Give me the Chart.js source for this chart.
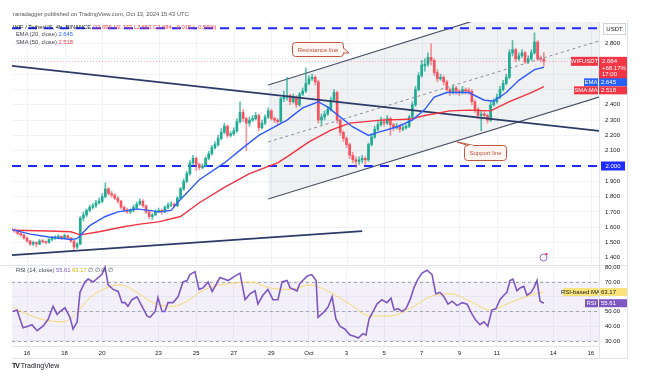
<!DOCTYPE html>
<html>
<head>
<meta charset="utf-8">
<script src="https://cdn.jsdelivr.net/npm/chart.js@4"></script>
<style>
  body { margin: 0; background: #fff; width: 650px; height: 376px; overflow: hidden; position: relative; font-family: "Liberation Sans", Arial, sans-serif; }
  canvas { position: absolute; left: 0; }
  #main { top: 0; }
  #rsi { top: 262px; }
  .t { position: absolute; font-size: 5.8px; white-space: nowrap; color: #434651; line-height: 7px; }
  .red { color: #f23645; }
  .blue { color: #2962ff; }
  .pur { color: #7e57c2; }
  .yel { color: #d9b400; }
</style>
</head>
<body>
<canvas id="main" width="650" height="266"></canvas>
<canvas id="rsi" width="650" height="114"></canvas>

<div class="t" style="left:13px;top:11px;color:#555">ranadagger published on TradingView.com, Oct 13, 2024 15:43 UTC</div>
<div class="t" style="left:13px;top:24px;color:#131722">WIF / TetherUS, 4h, BINANCE <span class="red">O2.699 H2.743 L2.653 C2.684 −0.015 (−0.56%)</span></div>
<div class="t" style="left:16px;top:31px">EMA (20, close) <span class="blue">2.645</span></div>
<div class="t" style="left:16px;top:39px">SMA (50, close) <span class="red">2.518</span></div>
<div class="t" style="left:16px;top:267px">RSI (14, close) <span class="pur">55.61</span> <span class="yel">63.17</span> ∅ ∅ ∅ ∅</div>
<div class="t" style="left:12px;top:362px;font-size:7px;color:#131722"><b style="letter-spacing:-1px">TV</b> TradingView</div>

<script>
// 4h candles, Sep 15 04:00 UTC .. Oct 13 12:00 UTC  [open, high, low, close]
const candles = [
  [1.59,1.60,1.57,1.58],[1.58,1.59,1.565,1.575],[1.575,1.58,1.55,1.56],[1.56,1.565,1.54,1.55],
  [1.55,1.555,1.52,1.53],[1.53,1.535,1.50,1.51],[1.51,1.515,1.48,1.49],[1.49,1.51,1.48,1.50],
  [1.50,1.505,1.47,1.49],[1.49,1.52,1.485,1.51],[1.51,1.52,1.495,1.505],[1.505,1.51,1.49,1.50],
  [1.50,1.525,1.495,1.52],[1.52,1.54,1.51,1.53],[1.53,1.545,1.52,1.535],[1.535,1.55,1.525,1.54],
  [1.54,1.545,1.52,1.53],[1.53,1.555,1.525,1.545],[1.545,1.55,1.52,1.53],[1.53,1.535,1.50,1.51],
  [1.51,1.515,1.455,1.47],[1.47,1.50,1.46,1.49],[1.49,1.67,1.485,1.66],[1.66,1.70,1.64,1.68],
  [1.68,1.72,1.67,1.71],[1.71,1.745,1.70,1.73],[1.73,1.755,1.72,1.74],[1.74,1.775,1.73,1.76],
  [1.76,1.79,1.75,1.77],[1.77,1.82,1.76,1.80],[1.80,1.89,1.79,1.85],[1.85,1.86,1.81,1.82],
  [1.82,1.835,1.795,1.81],[1.81,1.82,1.78,1.79],[1.79,1.80,1.755,1.77],[1.77,1.775,1.72,1.73],
  [1.73,1.74,1.70,1.71],[1.71,1.725,1.69,1.70],[1.70,1.72,1.69,1.71],[1.71,1.745,1.70,1.73],
  [1.73,1.765,1.72,1.75],[1.75,1.785,1.745,1.77],[1.77,1.78,1.73,1.74],[1.74,1.745,1.69,1.70],
  [1.70,1.71,1.655,1.67],[1.67,1.69,1.65,1.68],[1.68,1.715,1.675,1.70],[1.70,1.725,1.695,1.71],
  [1.71,1.72,1.685,1.70],[1.70,1.74,1.695,1.73],[1.73,1.76,1.72,1.745],[1.745,1.765,1.735,1.75],
  [1.75,1.76,1.73,1.74],[1.74,1.80,1.735,1.79],[1.79,1.86,1.785,1.85],[1.85,1.915,1.84,1.90],
  [1.90,1.965,1.89,1.95],[1.95,2.035,1.94,2.02],[2.02,2.07,2.01,2.05],[2.05,2.06,1.97,2.01],
  [2.01,2.02,1.975,1.99],[1.99,2.015,1.98,2.00],[2.00,2.06,1.995,2.05],[2.05,2.095,2.04,2.08],
  [2.08,2.135,2.07,2.12],[2.12,2.16,2.11,2.14],[2.14,2.20,2.13,2.18],[2.18,2.245,2.17,2.22],
  [2.22,2.28,2.21,2.26],[2.26,2.27,2.185,2.20],[2.20,2.225,2.19,2.21],[2.21,2.25,2.20,2.23],
  [2.23,2.31,2.22,2.29],[2.29,2.42,2.28,2.35],[2.35,2.37,2.29,2.31],[2.31,2.32,2.10,2.28],
  [2.28,2.32,2.26,2.30],[2.30,2.33,2.29,2.31],[2.31,2.35,2.30,2.33],[2.33,2.34,2.23,2.25],
  [2.25,2.30,2.24,2.28],[2.28,2.335,2.27,2.32],[2.32,2.38,2.31,2.36],[2.36,2.37,2.30,2.31],
  [2.31,2.32,2.285,2.30],[2.30,2.31,2.27,2.29],[2.29,2.45,2.285,2.44],[2.44,2.49,2.42,2.45],
  [2.45,2.58,2.43,2.46],[2.46,2.47,2.40,2.42],[2.42,2.47,2.41,2.45],[2.45,2.46,2.38,2.40],
  [2.40,2.48,2.39,2.47],[2.47,2.51,2.46,2.49],[2.49,2.64,2.48,2.54],[2.54,2.59,2.53,2.57],
  [2.57,2.60,2.56,2.58],[2.58,2.59,2.53,2.55],[2.55,2.56,2.28,2.30],[2.30,2.34,2.27,2.32],
  [2.32,2.36,2.30,2.34],[2.34,2.39,2.33,2.37],[2.37,2.45,2.36,2.43],[2.43,2.50,2.42,2.48],
  [2.48,2.49,2.28,2.30],[2.30,2.31,2.20,2.22],[2.22,2.23,2.16,2.18],[2.18,2.19,2.12,2.14],
  [2.14,2.15,2.05,2.07],[2.07,2.09,2.02,2.04],[2.04,2.06,1.99,2.03],[2.03,2.06,2.01,2.04],
  [2.04,2.07,2.02,2.05],[2.05,2.06,2.01,2.04],[2.04,2.15,2.03,2.14],[2.14,2.21,2.13,2.19],
  [2.19,2.26,2.18,2.24],[2.24,2.29,2.23,2.27],[2.27,2.32,2.26,2.29],[2.29,2.31,2.26,2.28],
  [2.28,2.33,2.27,2.31],[2.31,2.32,2.20,2.27],[2.27,2.28,2.23,2.25],[2.25,2.28,2.24,2.26],
  [2.26,2.27,2.22,2.24],[2.24,2.265,2.23,2.25],[2.25,2.27,2.24,2.26],[2.26,2.33,2.25,2.32],
  [2.32,2.42,2.31,2.40],[2.40,2.52,2.39,2.50],[2.50,2.61,2.49,2.59],[2.59,2.69,2.58,2.66],
  [2.655,2.70,2.62,2.665],[2.665,2.74,2.65,2.71],[2.71,2.80,2.66,2.69],[2.69,2.70,2.59,2.61],
  [2.61,2.63,2.55,2.57],[2.57,2.60,2.56,2.58],[2.58,2.59,2.53,2.55],[2.55,2.56,2.49,2.50],
  [2.50,2.51,2.46,2.48],[2.48,2.53,2.47,2.51],[2.51,2.52,2.47,2.49],[2.49,2.50,2.46,2.48],
  [2.48,2.52,2.47,2.50],[2.50,2.51,2.47,2.49],[2.492,2.51,2.47,2.488],[2.488,2.50,2.40,2.42],
  [2.42,2.43,2.35,2.37],[2.37,2.38,2.31,2.33],[2.33,2.36,2.23,2.34],[2.34,2.36,2.31,2.33],
  [2.33,2.34,2.28,2.30],[2.30,2.42,2.29,2.40],[2.40,2.44,2.39,2.42],[2.42,2.47,2.41,2.45],
  [2.45,2.52,2.44,2.50],[2.50,2.56,2.49,2.54],[2.54,2.60,2.53,2.58],[2.58,2.76,2.57,2.74],
  [2.74,2.82,2.72,2.76],[2.76,2.77,2.68,2.70],[2.70,2.74,2.69,2.72],[2.72,2.76,2.71,2.74],
  [2.74,2.75,2.67,2.68],[2.68,2.72,2.67,2.70],[2.70,2.76,2.69,2.74],[2.74,2.87,2.73,2.81],
  [2.81,2.82,2.69,2.70],[2.70,2.72,2.68,2.699],[2.699,2.743,2.653,2.684]
];

// moving averages (x = candle index)
const emaIdx = [0,6,12,19,21,25,30,34,40,44,47,51,53,60,68,74,79,84,88,93,98,101,109,114,117,123,128,132,135,139,146,151,154,158,162,167,170];
const emaVal = [1.585,1.555,1.536,1.52,1.525,1.61,1.67,1.70,1.72,1.71,1.70,1.71,1.76,1.91,2.02,2.12,2.20,2.255,2.30,2.38,2.42,2.385,2.255,2.20,2.22,2.255,2.30,2.37,2.45,2.48,2.48,2.43,2.425,2.48,2.56,2.63,2.645];
const smaIdx = [1,12,19,22,28,35,41,47,54,60,68,76,85,88,95,102,108,118,127,132,140,146,153,159,166,170];
const smaVal = [1.58,1.575,1.57,1.55,1.57,1.60,1.62,1.635,1.67,1.76,1.86,1.95,2.02,2.06,2.157,2.235,2.28,2.30,2.305,2.33,2.36,2.365,2.36,2.42,2.48,2.518];

// RSI (14) and its moving average
const rsiIdx = [0.5,1.8,3.7,5.3,6.6,8.2,10.1,11.7,13.3,14.6,15.5,17.1,18.7,19.7,21,21.9,23.5,24.5,26.1,27.7,28.9,29.9,30.9,32.5,34.1,35.3,36.3,37.2,38.5,40.1,41.1,43.3,44.3,45.9,46.8,48.1,49,50,51.6,53.2,54.8,56.1,57,58.6,59.9,61.2,62.8,64.1,66.6,
  69.2,71.4,73,74.6,76.2,77.8,78.7,80.3,81.9,83.5,85.1,86.4,88,89,91.2,92.1,94.4,95.9,97.3,97.9,99.5,101.1,102.4,103.6,104.9,106.5,108.1,109.7,110.7,112.3,113.2,114.2,115.5,116.7,118.3,119.9,121.2,122.2,123.4,124.7,126,127.3,128.5,129.8,131.1,132.7,134.3,135.5,136.8,138.1,139.4,140.7,142.3,143.9,145.5,147.1,148.3,149.6,150.9,152.1,153.4,154.7,156,157.2,158.2,159.2,160.1,161.4,162.4,163.6,164.6,165.9,166.8,167.8,168.8,170];
const rsiVal = [50,51,39,40,41,37,40,44.5,53.5,48,50,52.5,46,38,43,63,70,72,70,73,75,80,68,65,63.6,56,56,53.5,58,60,56,47,46,50,59.5,50,50,56,56,60,70,71,75,77,65,66,70,63.6,73,
  71,74,76,58,62,64,55,61,65,58,58,70,71,66,64,69,74,75,71,46,49,53,60,45,40,38,34,33,32,35,34,45,50,55,58,56,59,51,52,50,52,58,66,72,76,78,75,62,63,60,55,57,54,56,55,48,44,41,43,40,51,52,58,61,63,71,72,64,66,67,61,63,66,71,57,55.61];
const rsiMaIdx = [0.5,6.9,10.1,16.5,19.4,25.1,30.5,34.7,40.1,45.2,51.6,56.1,60.2,64.4,69.8,76.2,82.6,89,95.3,101.7,108.1,114.5,120.9,127.3,133.6,140.1,146.4,152.8,159.2,165.6,170];
const rsiMaVal = [52.7,46.6,44.5,43,46,59.5,66,68,63,56,53.5,57,63,67,69,70,66,65,68,63,55,47,47,52,60,62,57,51,56,61,63.17];
const rsiLevels = [70, 50, 30];

// date axis (candle index of 00:00 UTC)
const dateTickIdx = [5,17,29,47,59,71,83,95,107,119,131,143,155,173,185];
const dateTickLabels = ['16','18','20','23','25','27','29','Oct','3','5','7','9','11','14','16'];
const priceTicks = [1.4,1.5,1.6,1.7,1.8,1.9,2.0,2.1,2.2,2.3,2.4,2.5,2.6,2.7,2.8];
const rsiTicks = [30,40,50,60,70,80];

// drawings: [candle index, price]
const descLine = [[0.2,2.654],[187.6,2.229]];
const ascLine = [[0.2,1.418],[112,1.575]];
const chanUp = [[82,2.529],[187.6,3.205]];
const chanLow = [[82,1.784],[187.6,2.45]];
const chanMid = [[82,2.157],[187.6,2.817]];
const levels = [2.90, 2.00];

const UP = '#22ab94', DOWN = '#f7525f';
const X_MIN = 0.2, X_MAX = 187.6;
const pts = a => a.map(p => ({x: p[0], y: p[1]}));
const lineDs = (data, color, width, dash, order) => ({
  type: 'line', data, borderColor: color, borderWidth: width, borderDash: dash || [],
  pointRadius: 0, fill: false, order
});

const font = {family: '"Liberation Sans", Arial, sans-serif', size: 6};

function box(ctx, x, y, w, h, bg, fg, text, align) {
  ctx.fillStyle = bg;
  ctx.fillRect(x, y, w, h);
  ctx.fillStyle = fg;
  ctx.textAlign = align || 'center';
  ctx.textBaseline = 'middle';
  ctx.fillText(text, align === 'left' ? x + 2 : x + w / 2, y + h / 2 + 0.5);
}

const mainOverlay = {
  id: 'mainOverlay',
  beforeDatasetsDraw(chart) {
    const {ctx, chartArea: a, scales: {x, y}} = chart;
    ctx.save();
    // vertical grid at the date ticks
    ctx.strokeStyle = '#f0f3fa'; ctx.lineWidth = 1;
    dateTickIdx.forEach(v => {
      const px = Math.round(x.getPixelForValue(v)) + 0.5;
      ctx.beginPath(); ctx.moveTo(px, a.top); ctx.lineTo(px, a.bottom); ctx.stroke();
    });
    const py = y.getPixelForValue(candles[candles.length - 1][3]);
    ctx.strokeStyle = 'rgba(242,54,69,0.45)';
    ctx.setLineDash([1, 2]);
    ctx.beginPath(); ctx.moveTo(a.left, py); ctx.lineTo(a.right, py); ctx.stroke();
    ctx.restore();
  },
  afterDraw(chart) {
    const {ctx, chartArea: a, scales: {y}} = chart;
    ctx.save();
    ctx.font = '6px "Liberation Sans", Arial, sans-serif';
    // USDT box
    ctx.strokeStyle = '#d1d4dc'; ctx.lineWidth = 1;
    ctx.fillStyle = '#fff';
    ctx.fillRect(603.5, 23.5, 22, 11); ctx.strokeRect(603.5, 23.5, 22, 11);
    ctx.fillStyle = '#131722'; ctx.textAlign = 'center'; ctx.textBaseline = 'middle';
    ctx.fillText('USDT', 614.5, 29.5);
    // 2.000 level box
    const y2 = y.getPixelForValue(levels[1]);
    box(ctx, 601, y2 - 4.5, 24, 9, '#1e2bff', '#fff', levels[1].toFixed(3));
    // last price tag
    const last = candles[candles.length - 1][3];
    const yp = y.getPixelForValue(last);
    box(ctx, 571, yp - 4.5, 27, 9, '#f23645', '#fff', 'WIFUSDT');
    ctx.fillStyle = '#f23645';
    ctx.fillRect(599, yp - 4.5, 28, 23);
    ctx.fillStyle = '#fff'; ctx.textAlign = 'left';
    ctx.fillText(last.toFixed(3), 602, yp + 0.5);
    ctx.fillText('+68.17%', 602, yp + 7);
    ctx.fillText('17:00', 602, yp + 13.5);
    // EMA / SMA tags
    const ema = emaVal[emaVal.length - 1], sma = smaVal[smaVal.length - 1];
    const ye = Math.max(y.getPixelForValue(ema), yp + 21);
    box(ctx, 584, ye - 4, 14, 8, '#2962ff', '#fff', 'EMA');
    box(ctx, 599, ye - 4, 28, 8, '#2962ff', '#fff', ema.toFixed(3), 'left');
    const ys = Math.max(y.getPixelForValue(sma), ye + 8);
    box(ctx, 574, ys - 4, 24, 8, '#f23645', '#fff', 'SMA:MA');
    box(ctx, 599, ys - 4, 28, 8, '#f23645', '#fff', sma.toFixed(3), 'left');
    // callouts
    const callout = (x, yy, w, h, tail, text) => {
      ctx.fillStyle = '#fff6f4'; ctx.strokeStyle = '#c0573f'; ctx.lineWidth = 1;
      ctx.beginPath(); ctx.roundRect(x + 0.5, yy + 0.5, w, h, 3); ctx.fill(); ctx.stroke();
      ctx.beginPath(); ctx.moveTo(tail[0][0], tail[0][1]); ctx.lineTo(tail[1][0], tail[1][1]); ctx.lineTo(tail[2][0], tail[2][1]);
      ctx.fill(); ctx.stroke();
      ctx.fillStyle = '#fff6f4';
      if (tail[0][0] === tail[2][0]) ctx.fillRect(tail[0][0] - 1, tail[0][1] + 1, 1.5, tail[2][1] - tail[0][1] - 2);
      else ctx.fillRect(tail[0][0] + 1, tail[0][1] - 0.5, tail[2][0] - tail[0][0] - 2, 1.5);
      ctx.fillStyle = '#b5533c'; ctx.textAlign = 'center'; ctx.textBaseline = 'middle';
      ctx.fillText(text, x + w / 2 + 0.5, yy + h / 2 + 1);
    };
    callout(292, 42, 51, 14, [[343.5, 48], [349, 53], [343.5, 53]], 'Resistance line');
    callout(464, 145, 42, 15, [[468, 145.5], [457, 142], [474, 145.5]], 'Support line');
    // small icon
    ctx.strokeStyle = '#8e6ad6'; ctx.lineWidth = 1;
    ctx.beginPath(); ctx.arc(543.5, 257.5, 3.5, 0, Math.PI * 2); ctx.stroke();
    ctx.fillStyle = '#f23645'; ctx.fillRect(545.5, 253, 2, 2);
    // frame
    ctx.strokeStyle = '#e0e3eb';
    ctx.beginPath(); ctx.moveTo(627.5, 20); ctx.lineTo(627.5, 266); ctx.stroke();
    ctx.beginPath(); ctx.moveTo(0, 265.5); ctx.lineTo(627.5, 265.5); ctx.stroke();
    ctx.restore();
  }
};

const rsiOverlay = {
  id: 'rsiOverlay',
  beforeDatasetsDraw(chart) {
    const {ctx, chartArea: a, scales: {y}} = chart;
    ctx.save();
    ctx.fillStyle = 'rgba(126,87,194,0.09)';
    const t = y.getPixelForValue(rsiLevels[0]), b = y.getPixelForValue(rsiLevels[2]);
    ctx.fillRect(a.left, t, a.right - a.left, b - t);
    ctx.strokeStyle = '#a3a6af'; ctx.setLineDash([3, 3]); ctx.lineWidth = 1;
    rsiLevels.forEach(v => {
      const py = Math.round(y.getPixelForValue(v)) + 0.5;
      ctx.beginPath(); ctx.moveTo(a.left, py); ctx.lineTo(a.right, py); ctx.stroke();
    });
    ctx.restore();
  },
  afterDraw(chart) {
    const {ctx, chartArea: a, scales: {y}} = chart;
    ctx.save();
    ctx.font = '6px "Liberation Sans", Arial, sans-serif';
    const ma = rsiMaVal[rsiMaVal.length - 1], r = rsiVal[rsiVal.length - 1];
    const ym = y.getPixelForValue(ma), yr = Math.max(y.getPixelForValue(r), ym + 9);
    box(ctx, 563, ym - 4, 35, 8, '#fbe37a', '#131722', 'RSI-based MA');
    box(ctx, 599, ym - 4, 28, 8, '#fbe37a', '#131722', ma.toFixed(2), 'left');
    box(ctx, 585, yr - 4, 13, 8, '#7e57c2', '#fff', 'RSI');
    box(ctx, 599, yr - 4, 28, 8, '#7e57c2', '#fff', r.toFixed(2), 'left');
    ctx.strokeStyle = '#e0e3eb'; ctx.lineWidth = 1;
    ctx.beginPath(); ctx.moveTo(627.5, 0); ctx.lineTo(627.5, 97); ctx.stroke();
    ctx.beginPath(); ctx.moveTo(12, 96.5); ctx.lineTo(627.5, 96.5); ctx.stroke();
    ctx.beginPath(); ctx.moveTo(599.5, a.bottom); ctx.lineTo(599.5, 97); ctx.stroke();
    ctx.restore();
  }
};

const xTicks = s => { s.ticks = dateTickIdx.map(v => ({value: v})); };
const noPadX = h => s => { s.height = h; s.paddingLeft = 0; s.paddingRight = 0; };
const noPadY = s => { s.width = 28; s.paddingTop = 0; s.paddingBottom = 0; };

new Chart(document.getElementById('main'), {
  type: 'bar',
  data: {
    datasets: [
      lineDs(pts(emaIdx.map((x, k) => [x, emaVal[k]])), '#2f5bff', 1.4, null, 1),
      lineDs(pts(smaIdx.map((x, k) => [x, smaVal[k]])), '#ef3340', 1.4, null, 2),
      lineDs(pts(descLine), '#2b3a67', 1.8, null, 3),
      lineDs(pts(ascLine), '#2b3a67', 1.8, null, 3),
      lineDs(pts(chanMid), '#8a8e99', 1, [3, 3], 4),
      {
        type: 'bar', grouped: false, order: 5, barThickness: 2, minBarLength: 1,
        data: candles.map((c, i) => ({x: i, y: [c[0], c[3]]})),
        backgroundColor: candles.map(c => c[3] >= c[0] ? UP : DOWN)
      },
      {
        type: 'bar', grouped: false, order: 6, barThickness: 1,
        data: candles.map((c, i) => ({x: i, y: [c[2], c[1]]})),
        backgroundColor: candles.map(c => c[3] >= c[0] ? 'rgba(34,171,148,0.75)' : 'rgba(247,82,95,0.6)')
      },
      lineDs(pts([[X_MIN, levels[0]], [X_MAX, levels[0]]]), '#1e2bff', 2, [9, 7], 7),
      lineDs(pts([[X_MIN, levels[1]], [X_MAX, levels[1]]]), '#1e2bff', 2, [9, 7], 7),
      lineDs(pts(chanUp), '#4c5366', 1.2, null, 8),
      Object.assign(lineDs(pts(chanLow), '#4c5366', 1.2, null, 9), {fill: '-1', backgroundColor: 'rgba(120,126,140,0.11)'})
    ]
  },
  options: {
    responsive: false, animation: false, devicePixelRatio: 1,
    layout: {padding: {left: 12, right: 23, top: 22, bottom: 1}},
    plugins: {legend: {display: false}, tooltip: {enabled: false}},
    scales: {
      x: {type: 'linear', display: false, min: X_MIN, max: X_MAX, offset: false},
      y: {
        position: 'right', min: 1.353, max: 2.941,
        grid: {color: '#f0f3fa', drawTicks: false}, border: {color: '#e0e3eb'},
        ticks: {padding: 6, font, color: '#131722', callback: v => [2.0, 2.5, 2.6, 2.7].some(h => Math.abs(h - v) < 1e-6) ? '' : v.toFixed(3)},
        afterBuildTicks: s => { s.ticks = priceTicks.map(v => ({value: v})); },
        afterFit: noPadY
      }
    }
  },
  plugins: [mainOverlay]
});

new Chart(document.getElementById('rsi'), {
  type: 'line',
  data: {
    datasets: [
      {data: rsiIdx.map((x, k) => ({x, y: rsiVal[k]})), borderColor: '#7e57c2', borderWidth: 1.6, pointRadius: 0, tension: 0, order: 1},
      {data: rsiMaIdx.map((x, k) => ({x, y: rsiMaVal[k]})), borderColor: 'rgba(245,214,90,0.85)', borderWidth: 1, pointRadius: 0, cubicInterpolationMode: 'monotone', order: 2}
    ]
  },
  options: {
    responsive: false, animation: false, devicePixelRatio: 1,
    layout: {padding: {left: 12, right: 23, top: 2, bottom: 0}},
    plugins: {legend: {display: false}, tooltip: {enabled: false}},
    scales: {
      x: {
        type: 'linear', min: X_MIN, max: X_MAX,
        grid: {color: '#f0f3fa', drawTicks: false}, border: {color: '#e0e3eb'},
        ticks: {padding: 4, font, color: '#131722', autoSkip: false, maxRotation: 0,
          callback: v => dateTickLabels[dateTickIdx.indexOf(v)] || ''},
        afterBuildTicks: xTicks, afterFit: noPadX(30)
      },
      y: {
        position: 'right', min: 26.6, max: 82.2,
        grid: {color: '#f0f3fa', drawTicks: false}, border: {color: '#e0e3eb'},
        ticks: {padding: 6, font, color: '#131722', callback: v => v === 60 ? '' : v.toFixed(2)},
        afterBuildTicks: s => { s.ticks = rsiTicks.map(v => ({value: v})); },
        afterFit: noPadY
      }
    }
  },
  plugins: [rsiOverlay]
});
</script>
</body>
</html>
